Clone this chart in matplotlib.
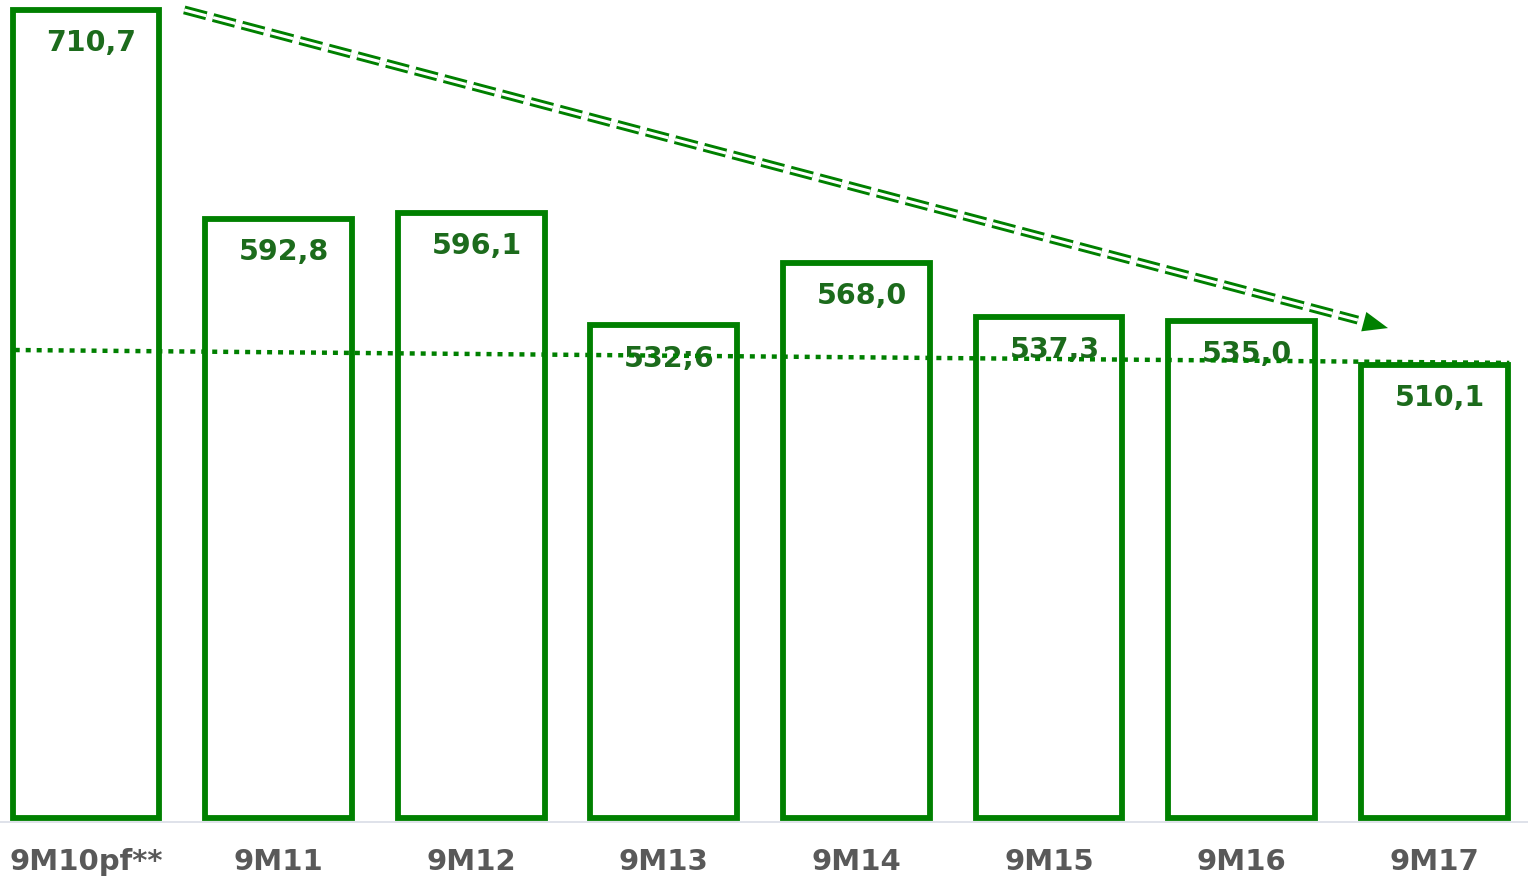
import matplotlib
matplotlib.use("Agg")
import matplotlib.pyplot as plt

plt.rcParams['lines.scale_dashes'] = False

categories = ["9M10pf**", "9M11", "9M12", "9M13", "9M14", "9M15", "9M16", "9M17"]
values = [710.7, 592.8, 596.1, 532.6, 568.0, 537.3, 535.0, 510.1]
value_labels = ["710,7", "592,8", "596,1", "532;6", "568,0", "537,3", "535,0", "510,1"]

# dotted reference line (start, end)
dotted_x = [-0.37, 7.39]
dotted_y = [518.6, 511.3]
# dashed trend arrow (start, end)
arrow_x = [0.51, 6.76]
arrow_y = [710.7, 531.0]

GREEN = "#008000"
LABEL_GREEN = "#1c6b1c"
GRAY = "#595959"

W, H = 1528, 882
fig = plt.figure(figsize=(W / 100, H / 100), dpi=100)
ax = fig.add_axes([0, (H - 822) / H, 1, 822 / H])

base = 254.4
x = list(range(len(categories)))
heights = [v - base for v in values]
ax.bar(x, heights, bottom=base, width=0.763, facecolor="white",
       edgecolor=GREEN, linewidth=4.2, zorder=2)

for xi, v, lab in zip(x, values, value_labels):
    ax.annotate(lab, (xi, v), xytext=(4, -24), textcoords="offset points",
                ha="center", va="center", fontsize=20.5, fontweight="bold",
                color=LABEL_GREEN, zorder=4)

# dotted line
ax.plot(dotted_x, dotted_y, color=GREEN, linewidth=3.2,
        linestyle=(0, (3.6, 4.3)), zorder=5, solid_capstyle="butt",
        dash_capstyle="butt")

# double dashed arrow line: green thick dashes with white center
frac = 0.975
lx = [arrow_x[0], arrow_x[0] + (arrow_x[1] - arrow_x[0]) * frac]
ly = [arrow_y[0], arrow_y[0] + (arrow_y[1] - arrow_y[0]) * frac]
ax.plot(lx, ly, color=GREEN, linewidth=6.4,
        linestyle=(0, (16.5, 5)), dash_capstyle="butt", zorder=3)
ax.plot(lx, ly, color="white", linewidth=2.2,
        linestyle=(0, (16.5, 5)), dash_capstyle="butt", zorder=3)
fx = arrow_x[1] - (arrow_x[1] - arrow_x[0]) * 0.02
fy = arrow_y[1] - (arrow_y[1] - arrow_y[0]) * 0.02
ax.annotate("", xy=(arrow_x[1], arrow_y[1]), xytext=(fx, fy),
            arrowprops=dict(arrowstyle="-|>,head_length=1.8,head_width=0.72",
                            color=GREEN, lw=0.01, shrinkA=0, shrinkB=0),
            zorder=3)

ax.set_xlim(-86 / 192.6, (W - 86) / 192.6)
ax.set_ylim(252.0, 716.3)
ax.set_xticks(x)
ax.set_xticklabels(categories, fontsize=21, fontweight="bold", color=GRAY)
ax.tick_params(axis="x", length=0, pad=19)
ax.set_yticks([])
for s in ["top", "left", "right"]:
    ax.spines[s].set_visible(False)
ax.spines["bottom"].set_color("#d9dde6")
ax.spines["bottom"].set_linewidth(1.2)

fig.savefig("out.png", dpi=100, facecolor="white")
